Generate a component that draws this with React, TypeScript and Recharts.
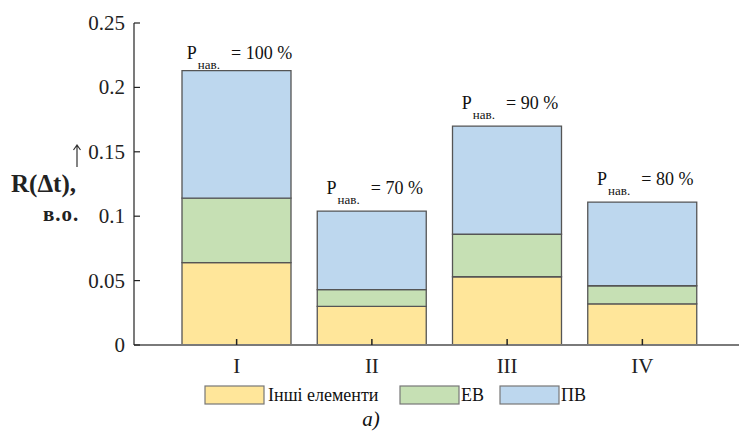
import React from 'react';
import { BarChart, Bar, XAxis, YAxis, Legend, LabelList } from 'recharts';

const categories = ['I', 'II', 'III', 'IV'];
const inshi = [0.064, 0.030, 0.053, 0.032];
const ev = [0.050, 0.013, 0.033, 0.014];
const pv = [0.099, 0.061, 0.084, 0.065];
const loads = ['100 %', '70 %', '90 %', '80 %'];
const yTicks = [0, 0.05, 0.1, 0.15, 0.2, 0.25];
const seriesNames = ['Інші елементи', 'ЕВ', 'ПВ'];

const colors = ['#FFE69A', '#C6E0B4', '#BDD7EE'];
const FONT = "'Liberation Serif', 'Times New Roman', serif";
const fs = (size: number, extra: any = {}) => ({ fontFamily: FONT, fontSize: size, ...extra });

const data = categories.map((c, i) => ({ cat: c, inshi: inshi[i], ev: ev[i], pv: pv[i] }));

const YTick = (props: any) => {
  const { x, y, payload } = props;
  return (
    <g>
      <line x1={x} x2={x + 6} y1={y} y2={y} stroke="#222" strokeWidth={1.2} />
      <text x={x - 9} y={y + 7} textAnchor="end" style={fs(21)} fill="#222">
        {String(payload.value)}
      </text>
    </g>
  );
};

const XTick = (props: any) => {
  const { x, y, payload } = props;
  return (
    <g>
      <line x1={x} x2={x} y1={y} y2={y - 6} stroke="#222" strokeWidth={1.5} />
      <text x={x} y={y + 28} textAnchor="middle" style={fs(21)} fill="#222">
        {payload.value}
      </text>
    </g>
  );
};

const TopLabel = (props: any) => {
  const { x, y, width, index } = props;
  const cx = x + width / 2 + 3;
  const base = Math.max(y - 17, 59);
  return (
    <text x={cx} y={base} textAnchor="middle" style={{ fontFamily: FONT }} fill="#111">
      <tspan style={fs(18)}>P</tspan>
      <tspan style={fs(13)} dy={10} dx={1}>нав.</tspan>
      <tspan style={fs(18)} dy={-10} dx={11}>{'= ' + loads[index]}</tspan>
    </text>
  );
};

const LegendContent = () => {
  const items = [
    { x: 205, tx: 268 },
    { x: 400, tx: 461 },
    { x: 500, tx: 561 },
  ];
  return (
    <svg width={739} height={60} style={{ display: 'block' }}>
      {items.map((it, i) => (
        <g key={i}>
          <rect x={it.x} y={6} width={59} height={18} fill={colors[i]} stroke="#777" strokeWidth={1.2} />
          <text x={it.tx} y={21} style={fs(18)} fill="#111">{seriesNames[i]}</text>
        </g>
      ))}
      <text x={371} y={46} textAnchor="middle" style={fs(21, { fontStyle: 'italic' })} fill="#111">а)</text>
    </svg>
  );
};

const YLabel = () => (
  <g fill="#222">
    <path d="M77,167 L77,145 M73.5,150 L77,145 L80.5,150" stroke="#333" strokeWidth={1.2} fill="none" />
    <text x={11} y={192} style={fs(25, { fontWeight: 'bold' })}>R(Δt),</text>
    <text x={43} y={221} style={fs(21, { fontWeight: 'bold', letterSpacing: 1 })}>в.о.</text>
  </g>
);

export default function App() {
  return (
    <div style={{ position: 'absolute', left: 0, top: 0, width: 739, height: 440, background: '#fff', fontFamily: FONT }}>
      <BarChart width={739} height={440} data={data} margin={{ top: 23, right: 0, left: 0, bottom: 0 }} barSize={109}>
        <XAxis
          dataKey="cat"
          height={95}
          padding={{ left: 35, right: 29 }}
          axisLine={{ stroke: '#7a7a7a', strokeWidth: 2 }}
          tickLine={false}
          tickSize={0}
          tickMargin={0}
          tick={<XTick />}
          interval={0}
        />
        <YAxis
          width={134}
          domain={[0, 0.25]}
          ticks={yTicks}
          axisLine={{ stroke: '#222', strokeWidth: 1.2 }}
          tickLine={false}
          tickSize={0}
          tickMargin={0}
          tick={<YTick />}
          label={<YLabel />}
        />
        <Legend
          layout="horizontal"
          verticalAlign="middle"
          align="center"
          content={<LegendContent />}
          wrapperStyle={{ top: 380, left: 0, width: 739, height: 60 }}
        />
        <Bar dataKey="inshi" name={seriesNames[0]} stackId="a" fill={colors[0]} stroke="#555" strokeWidth={1.3} isAnimationActive={false} />
        <Bar dataKey="ev" name={seriesNames[1]} stackId="a" fill={colors[1]} stroke="#555" strokeWidth={1.3} isAnimationActive={false} />
        <Bar dataKey="pv" name={seriesNames[2]} stackId="a" fill={colors[2]} stroke="#555" strokeWidth={1.3} isAnimationActive={false}>
          <LabelList dataKey="pv" content={<TopLabel />} />
        </Bar>
      </BarChart>
    </div>
  );
}
